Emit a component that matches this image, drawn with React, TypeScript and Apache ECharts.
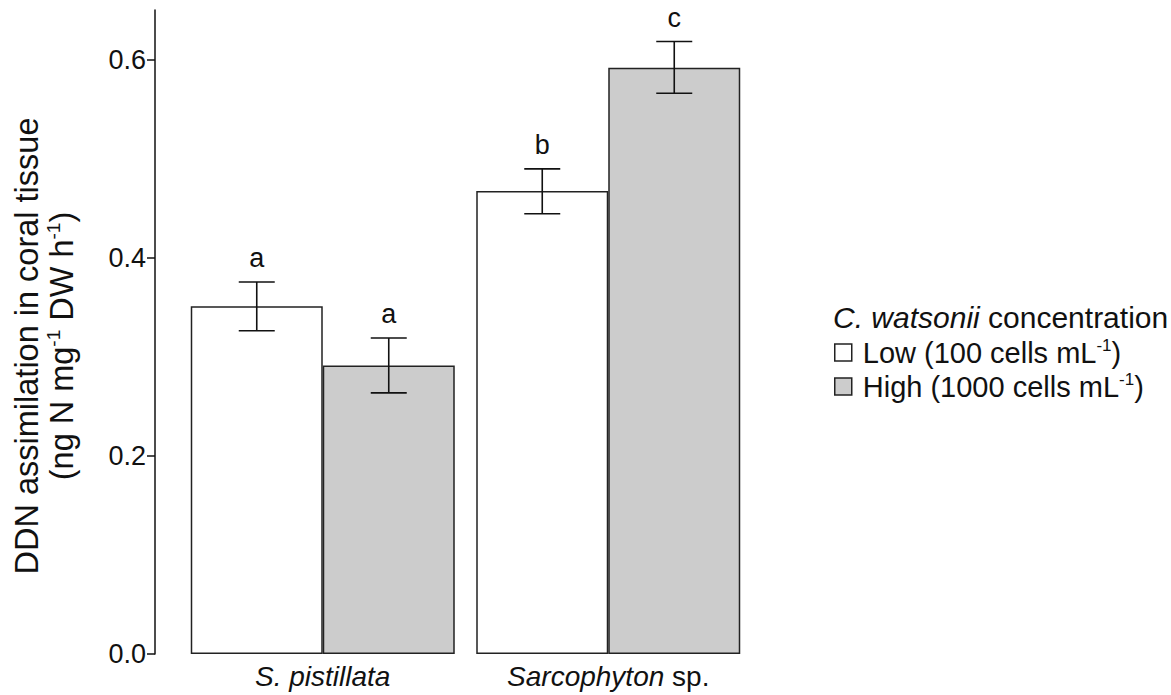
import React, { useEffect, useRef } from "react";
import * as echarts from "echarts";

const categories = ["S. pistillata", "Sarcophyton sp."];
const seriesNames = ["Low", "High"];
const lowMeans = [0.351, 0.4674];
const highMeans = [0.2912, 0.5916];
const lowLower = [0.3263, 0.4444];
const lowUpper = [0.3755, 0.4896];
const highLower = [0.2636, 0.566];
const highUpper = [0.3189, 0.6182];
const lowLetters = ["a", "b"];
const highLetters = ["a", "c"];
const yTicks = [0, 0.2, 0.4, 0.6];

const FONT = '"Liberation Sans", Arial, sans-serif';
const BAR_W = 132;
const INK = "#111111";

function errorRender(offset: number, letters: string[]) {
  return (params: any, api: any) => {
    const idx = api.value(0);
    const lo = api.coord([idx, api.value(1)]);
    const hi = api.coord([idx, api.value(2)]);
    const x = lo[0] + offset;
    const cap = 18;
    const st = { stroke: INK, lineWidth: 1.6 };
    return {
      type: "group",
      children: [
        { type: "line", shape: { x1: x, y1: lo[1], x2: x, y2: hi[1] }, style: st },
        { type: "line", shape: { x1: x - cap, y1: hi[1], x2: x + cap, y2: hi[1] }, style: st },
        { type: "line", shape: { x1: x - cap, y1: lo[1], x2: x + cap, y2: lo[1] }, style: st },
        {
          type: "text",
          x,
          y: hi[1] - 24,
          style: {
            text: letters[params.dataIndex],
            fill: INK,
            fontSize: 27,
            fontFamily: FONT,
            align: "center",
            verticalAlign: "middle",
          },
        },
      ],
    };
  };
}

export default function App() {
  const ref = useRef<HTMLDivElement>(null);
  useEffect(() => {
    document.body.style.margin = "0";
    if (!ref.current) return;
    const chart = echarts.init(ref.current, undefined, { renderer: "svg" });
    const option: any = {
      animation: false,
      backgroundColor: "#ffffff",
      grid: { left: 180, right: 420, top: 10, bottom: 41 },
      xAxis: {
        type: "category",
        data: categories,
        axisLine: { show: false },
        axisTick: { show: false },
        axisLabel: {
          interval: 0,
          margin: 8,
          color: INK,
          fontSize: 28,
          fontFamily: FONT,
          formatter: (v: string) =>
            v === "Sarcophyton sp." ? "{i|Sarcophyton}{n| sp.}" : "{i|" + v + "}",
          rich: {
            i: { fontStyle: "italic", fontSize: 28, fontFamily: FONT, color: INK },
            n: { fontSize: 28, fontFamily: FONT, color: INK },
          },
        },
      },
      yAxis: {
        type: "value",
        min: 0,
        max: 0.65,
        interval: 0.2,
        offset: 25,
        splitLine: { show: false },
        axisLine: { show: true, lineStyle: { color: INK, width: 1.5 } },
        axisTick: {
          show: true,
          length: 8,
          lineStyle: { color: INK, width: 1.5 },
          customValues: yTicks,
        },
        axisLabel: {
          color: INK,
          fontSize: 27,
          fontFamily: FONT,
          margin: 9,
          customValues: yTicks,
          formatter: (v: number) => v.toFixed(1),
        },
      },
      legend: {
        orient: "vertical",
        left: 834,
        top: 337,
        padding: 0,
        itemWidth: 17,
        itemHeight: 17,
        itemGap: 4,
        icon: "rect",
        data: seriesNames,
        itemStyle: { borderColor: "#222222", borderWidth: 1.5 },
        formatter: (name: string) =>
          name === "Low"
            ? "{n|Low (100 cells mL}{s|-1}{n|)}"
            : "{n|High (1000 cells mL}{s|-1}{n|)}",
        textStyle: {
          color: INK,
          fontFamily: FONT,
          fontSize: 29,
          padding: [0, 0, 0, 6],
          rich: {
            n: { fontSize: 29, fontFamily: FONT, color: INK, lineHeight: 31 },
            s: { fontSize: 17, fontFamily: FONT, color: INK, verticalAlign: "top", lineHeight: 31 },
          },
        },
      },
      graphic: [
        {
          type: "text",
          x: 44,
          y: 346,
          rotation: Math.PI / 2,
          style: {
            text:
              "{t|DDN assimilation in coral tissue}\n{t|(ng N mg}{s|-1}{t| DW h}{s|-1}{t|)}",
            align: "center",
            verticalAlign: "middle",
            rich: {
              t: { fontSize: 32.5, fontFamily: FONT, fill: INK, lineHeight: 35, align: "center" },
              s: { fontSize: 19, fontFamily: FONT, fill: INK, lineHeight: 35, verticalAlign: "top", align: "center" },
            },
          },
        },
        {
          type: "text",
          left: 833,
          top: 302,
          style: {
            text: "{i|C. watsonii}{n| concentration}",
            rich: {
              i: { fontSize: 30, fontStyle: "italic", fontFamily: FONT, fill: INK },
              n: { fontSize: 30, fontFamily: FONT, fill: INK },
            },
          },
        },
      ],
      series: [
        {
          type: "bar",
          name: "Low",
          data: lowMeans,
          barWidth: BAR_W,
          barGap: "0%",
          itemStyle: { color: "#ffffff", borderColor: "#222222", borderWidth: 1.5 },
        },
        {
          type: "bar",
          name: "High",
          data: highMeans,
          barWidth: BAR_W,
          barGap: "0%",
          itemStyle: { color: "#cccccc", borderColor: "#222222", borderWidth: 1.5 },
        },
        {
          type: "custom",
          name: "LowErr",
          data: categories.map((_, i) => [i, lowLower[i], lowUpper[i]]),
          encode: { x: 0, y: [1, 2] },
          renderItem: errorRender(-BAR_W / 2, lowLetters),
          z: 10,
        },
        {
          type: "custom",
          name: "HighErr",
          data: categories.map((_, i) => [i, highLower[i], highUpper[i]]),
          encode: { x: 0, y: [1, 2] },
          renderItem: errorRender(BAR_W / 2, highLetters),
          z: 10,
        },
      ],
    };
    chart.setOption(option);
    return () => chart.dispose();
  }, []);
  return <div ref={ref} style={{ width: 1171, height: 695 }} />;
}
